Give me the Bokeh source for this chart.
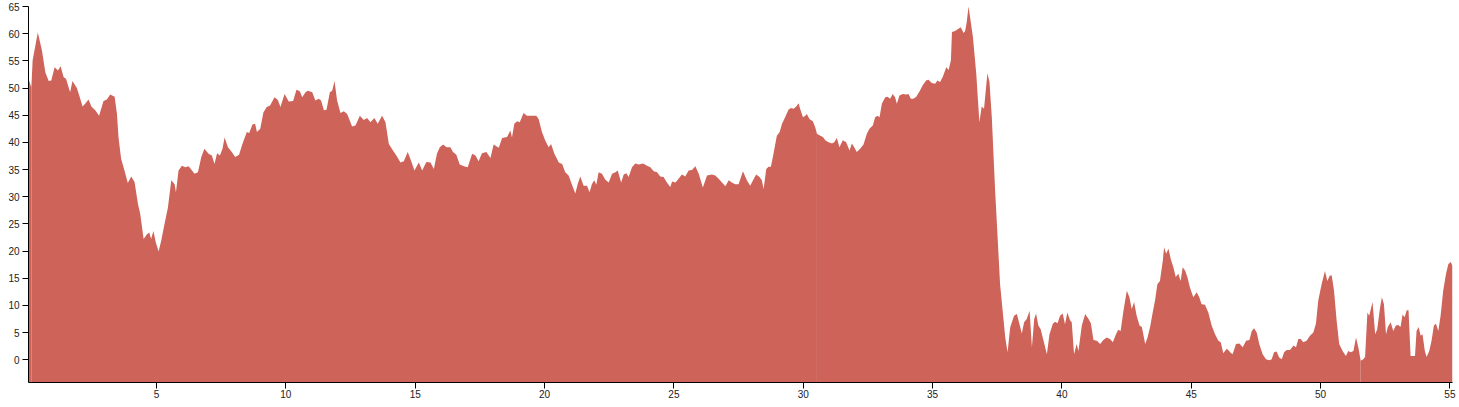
from bokeh.plotting import figure
from bokeh.models import Range1d, FixedTicker
from bokeh.embed import file_html
from bokeh.resources import INLINE

# ---- data (distance along x, value along y) ----
km_a = [0.05, 0.16, 0.21, 0.41, 0.57, 0.70, 0.83, 0.93, 1.06, 1.19, 1.29, 1.41, 1.50, 1.66, 1.75,
        1.92, 2.05, 2.14, 2.24, 2.37, 2.48, 2.63, 2.78, 2.95, 3.08, 3.21, 3.38, 3.47, 3.53, 3.63,
        3.76, 3.89, 4.02, 4.15, 4.28, 4.37, 4.50, 4.63, 4.72, 4.79, 4.88, 4.97, 5.08, 5.18, 5.31,
        5.44, 5.57, 5.70, 5.75, 5.85, 5.98, 6.11, 6.24, 6.37, 6.47, 6.60, 6.73, 6.85, 7.01, 7.14,
        7.24, 7.34, 7.45, 7.55, 7.63, 7.76, 7.91, 8.04, 8.19, 8.32, 8.49, 8.58, 8.71, 8.81, 8.88,
        9.01, 9.13, 9.26, 9.39]
val_a = [51.7, 50.1, 55.1, 60.2, 56.9, 52.9, 51.3, 51.4, 53.8, 53.2, 54.0, 52.0, 51.7, 49.2, 51.3,
         50.0, 48.0, 46.6, 47.1, 47.9, 46.6, 45.9, 44.9, 47.6, 47.9, 48.8, 48.4, 45.2, 40.9, 37.0,
         34.8, 32.5, 33.7, 32.7, 28.7, 26.8, 22.2, 23.1, 23.4, 22.2, 23.7, 21.6, 19.9, 21.9, 25.0,
         28.0, 33.0, 32.3, 30.8, 34.8, 35.7, 35.4, 35.6, 34.8, 34.2, 34.5, 37.3, 38.8, 37.9, 37.6,
         36.0, 38.0, 37.6, 38.8, 40.9, 39.1, 38.2, 37.3, 37.7, 39.7, 41.9, 41.7, 43.3, 43.4, 41.9,
         42.5, 45.5, 46.5, 46.8]

km_b = [9.56, 9.69, 9.79, 9.95, 10.11, 10.28, 10.41, 10.54, 10.63, 10.76, 10.85, 11.02, 11.14,
        11.27, 11.36, 11.47, 11.57, 11.70, 11.79, 11.88, 11.98, 12.11, 12.24, 12.37, 12.56, 12.69,
        12.86, 13.01, 13.14, 13.27, 13.42, 13.55, 13.72, 13.85, 13.98, 14.14, 14.27, 14.43, 14.56,
        14.71, 14.84, 14.97, 15.14, 15.27, 15.43, 15.59, 15.72, 15.84, 15.95, 16.08, 16.21, 16.36,
        16.46, 16.59, 16.72, 16.88, 17.03, 17.20, 17.33, 17.45, 17.58, 17.75, 17.91, 18.03, 18.23,
        18.36, 18.55]
val_b = [48.3, 47.8, 46.5, 48.9, 47.5, 47.6, 49.7, 49.4, 48.3, 49.2, 49.5, 49.2, 47.7,
         48.0, 47.7, 45.9, 46.0, 49.2, 49.5, 51.3, 47.7, 45.4, 45.7, 45.2, 42.9, 43.1,
         44.9, 44.1, 44.5, 43.7, 44.5, 43.4, 44.9, 43.7, 39.7, 38.5, 37.6, 36.3, 36.5,
         38.2, 36.6, 34.8, 36.3, 34.8, 36.4, 36.3, 35.1, 37.9, 39.1, 39.6, 39.1, 39.1,
         38.2, 37.7, 35.9, 35.6, 35.4, 37.9, 37.6, 36.5, 38.0, 38.2, 37.1, 39.6, 39.0,
         40.8, 41.0]

km_c = [18.68, 18.74, 18.83, 18.94, 19.04, 19.19, 19.32, 19.52, 19.68, 19.77, 19.90, 20.03, 20.16,
        20.25, 20.38, 20.55, 20.68, 20.80, 20.93, 21.06, 21.19, 21.28, 21.38, 21.51, 21.64, 21.74,
        21.83, 21.92, 22.00, 22.09, 22.22, 22.35, 22.48, 22.61, 22.74, 22.83, 22.96, 23.06, 23.16,
        23.25, 23.38, 23.51, 23.64, 23.81, 23.96, 24.09, 24.22, 24.35, 24.47, 24.60, 24.73, 24.86,
        24.93, 25.06, 25.18, 25.31, 25.44, 25.57, 25.70, 25.83, 25.96, 26.12, 26.28, 26.47, 26.60,
        26.73, 26.86, 26.99, 27.12, 27.24, 27.37, 27.50, 27.67, 27.82]
val_c = [42.2, 40.9, 43.4, 43.9, 43.7, 45.4, 44.9, 44.9, 44.9, 44.3, 41.9, 40.3, 39.1,
         39.7, 37.9, 36.3, 36.0, 34.5, 33.9, 32.2, 30.6, 32.3, 33.7, 32.0, 32.0, 30.8,
         32.3, 33.0, 32.2, 34.5, 34.2, 33.1, 32.6, 34.2, 34.5, 34.8, 32.6, 34.1, 34.3,
         33.6, 35.4, 36.1, 35.9, 36.1, 35.7, 35.4, 34.7, 34.5, 33.7, 33.6, 32.6, 31.8,
         32.8, 32.6, 33.3, 34.1, 33.7, 34.8, 34.9, 35.6, 34.2, 31.7, 33.9, 34.1, 33.9,
         33.3, 32.6, 31.9, 33.0, 32.6, 32.3, 32.3, 34.7, 33.0]

km_d = [27.95, 28.06, 28.18, 28.31, 28.40, 28.47, 28.57, 28.66, 28.75, 28.85, 28.98, 29.09, 29.18,
        29.30, 29.43, 29.52, 29.63, 29.73, 29.82, 29.88, 29.99, 30.08, 30.14, 30.24, 30.37, 30.46,
        30.53, 30.66, 30.76, 30.85, 30.98, 31.11, 31.20, 31.30, 31.40, 31.53, 31.66, 31.79, 31.88,
        31.97, 32.07, 32.20, 32.33, 32.46, 32.56, 32.69, 32.78, 32.87, 32.95, 33.04, 33.17, 33.26,
        33.36, 33.46, 33.55, 33.62, 33.72, 33.85, 33.98, 34.07, 34.16, 34.26, 34.37, 34.50, 34.62,
        34.75, 34.84, 34.97, 35.10, 35.19, 35.29, 35.40, 35.53, 35.62, 35.71, 35.75, 35.87, 36.00,
        36.09, 36.20, 36.26, 36.32, 36.39, 36.45, 36.56, 36.69, 36.81, 36.90, 36.99, 37.12, 37.20,
        37.29, 37.42]
val_d = [32.0, 33.0, 34.1, 33.6, 33.0, 31.4, 35.1, 35.5, 35.5, 37.9, 41.2, 41.9, 43.4,
         44.6, 46.0, 46.3, 46.2, 46.6, 47.2, 46.2, 44.6, 44.9, 45.2, 44.3, 43.9, 42.8,
         41.6, 41.2, 41.0, 40.4, 40.0, 39.8, 40.0, 40.8, 39.1, 40.4, 40.0, 38.5, 39.8,
         39.1, 38.2, 38.8, 39.6, 41.6, 42.5, 43.1, 44.6, 44.9, 44.6, 47.1, 48.3, 48.4,
         48.0, 48.9, 48.3, 47.1, 48.6, 48.9, 48.8, 48.9, 48.0, 48.0, 48.4, 49.4, 50.5,
         51.4, 51.5, 50.9, 50.8, 51.4, 51.1, 52.1, 53.8, 53.3, 55.1, 60.3, 60.5, 60.9,
         61.2, 60.1, 60.5, 62.1, 65.0, 63.0, 59.4, 52.6, 43.7, 46.6, 46.2, 52.7, 51.1,
         44.6, 31.0]

km_e = [37.61, 37.81, 37.90, 38.00, 38.15, 38.26, 38.36, 38.45, 38.54, 38.64, 38.75, 38.84, 38.93,
        39.00, 39.09, 39.18, 39.29, 39.42, 39.52, 39.65, 39.74, 39.83, 39.93, 40.03, 40.12, 40.21,
        40.32, 40.38, 40.47, 40.57, 40.64, 40.77, 40.90, 41.03, 41.12, 41.22, 41.35, 41.48, 41.60,
        41.73, 41.86, 41.97, 42.09, 42.18, 42.27, 42.38, 42.51, 42.61, 42.70, 42.79, 42.89, 43.00,
        43.09, 43.22, 43.31, 43.41, 43.51, 43.60, 43.69, 43.79, 43.90, 43.95, 44.03, 44.12, 44.21,
        44.31, 44.40, 44.50, 44.59, 44.67, 44.76, 44.85, 44.95, 45.08, 45.21, 45.31, 45.40, 45.53,
        45.66, 45.79, 45.92, 46.05, 46.14, 46.24, 46.37, 46.47]
val_e = [13.9, 4.1, 1.35, 5.9, 8.1, 8.4, 6.5, 4.8, 6.9, 7.5, 9.0, 2.3, 7.5,
         8.5, 6.3, 5.6, 3.5, 1.0, 4.7, 6.6, 7.0, 6.7, 8.1, 8.5, 6.5, 8.7,
         7.2, 6.9, 1.0, 2.9, 1.6, 6.3, 8.4, 7.5, 6.7, 3.6, 3.5, 2.9, 3.6,
         4.1, 3.8, 3.2, 4.7, 5.5, 5.3, 9.0, 12.7, 11.5, 9.3, 10.6, 8.1, 6.3,
         6.0, 2.9, 4.1, 6.0, 8.7, 10.9, 13.9, 14.5, 18.2, 20.7, 19.5, 20.4, 18.5,
         17.0, 15.2, 15.8, 14.5, 17.0, 16.4, 15.2, 13.3, 11.5, 12.4, 11.5, 10.2, 10.1,
         8.7, 6.3, 4.7, 3.5, 3.2, 1.2, 2.0, 1.6]

km_f = [46.50, 46.60, 46.73, 46.86, 46.99, 47.12, 47.25, 47.34, 47.43, 47.53, 47.63, 47.76, 47.89,
        48.02, 48.11, 48.20, 48.30, 48.40, 48.50, 48.59, 48.69, 48.82, 48.95, 49.05, 49.14, 49.23,
        49.33, 49.46, 49.59, 49.72, 49.82, 49.91, 50.04, 50.17, 50.26, 50.36, 50.43, 50.52, 50.62,
        50.72, 50.85, 50.98, 51.07, 51.16, 51.27, 51.37, 51.47, 51.55, 51.65, 51.72, 51.81, 51.88,
        52.01, 52.11, 52.19, 52.30, 52.37, 52.45, 52.53, 52.60, 52.71, 52.81, 52.91, 53.00, 53.09,
        53.17, 53.25, 53.33, 53.40, 53.48, 53.65, 53.71, 53.79, 53.87, 53.94, 54.03, 54.10, 54.20,
        54.29, 54.38, 54.46, 54.55, 54.64, 54.74, 54.85, 54.94, 55.03, 55.10]
val_f = [1.35, 1.0, 2.9, 3.0, 2.3, 3.5, 3.6, 5.3, 5.8, 5.0, 2.9, 1.0, 0.1,
         -0.1, 0.1, 1.35, 1.5, 0.4, 0.1, 1.35, 1.8, 1.8, 2.6, 2.3, 3.8, 3.8,
         3.2, 3.5, 4.4, 5.0, 6.6, 10.9, 13.9, 16.3, 14.5, 15.5, 15.5, 12.7, 7.2,
         2.9, 1.6, 0.7, 1.6, 1.35, 1.6, 4.1, 2.0, -0.2, 0.1, 0.5, 8.7, 8.1,
         10.6, 4.7, 5.6, 9.6, 11.5, 10.2, 4.7, 6.0, 6.9, 5.3, 6.3, 6.4, 6.0,
         8.3, 7.8, 9.1, 9.1, 0.7, 0.7, 5.3, 6.0, 4.4, 4.7, 1.6, 0.5, 1.6,
         3.5, 6.3, 6.6, 5.3, 8.1, 12.7, 15.8, 17.6, 18.0, 17.3]

segment_breaks = [0.16, 30.53, 51.55]   # where the area is split into separate pieces
y_ticks = list(range(0, 70, 5))
x_ticks = list(range(5, 60, 5))

km = km_a + km_b + km_c + km_d + km_e + km_f
val = val_a + val_b + val_c + val_d + val_e + val_f
assert len(km) == len(val), (len(km), len(val))

Y_MIN, Y_MAX = -4.2, 65.0
X_MIN, X_MAX = km[0], km[-1]
FILL = "#cd6359"

p = figure(width=1459, height=407, output_backend="svg", toolbar_location=None,
           x_range=Range1d(X_MIN, X_MAX), y_range=Range1d(Y_MIN, Y_MAX),
           min_border_top=6, min_border_bottom=25, min_border_left=28, min_border_right=7)
p.outline_line_color = None
p.grid.visible = False
p.background_fill_color = "white"
p.border_fill_color = "white"

edges = [X_MIN] + segment_breaks + [X_MAX]
for lo, hi in zip(edges[:-1], edges[1:]):
    pts = [(k, v) for k, v in zip(km, val) if lo <= k <= hi]
    xs = [k for k, _ in pts]
    ys = [v for _, v in pts]
    p.varea(x=xs, y1=[Y_MIN] * len(xs), y2=ys, fill_color=FILL, fill_alpha=1.0)

p.xaxis.ticker = FixedTicker(ticks=x_ticks)
p.yaxis.ticker = FixedTicker(ticks=y_ticks)
for ax in (p.xaxis, p.yaxis):
    ax.axis_line_color = "black"
    ax.axis_line_width = 1
    ax.major_tick_line_color = "black"
    ax.major_tick_out = 6
    ax.major_tick_in = 0
    ax.minor_tick_line_color = None
    ax.major_label_text_font = "Liberation Sans"
    ax.major_label_text_font_size = "10px"
    ax.major_label_text_color = "#222222"
p.xaxis.major_label_standoff = 1
p.yaxis.major_label_standoff = 3

open("out.html", "w").write(file_html(p, INLINE))
